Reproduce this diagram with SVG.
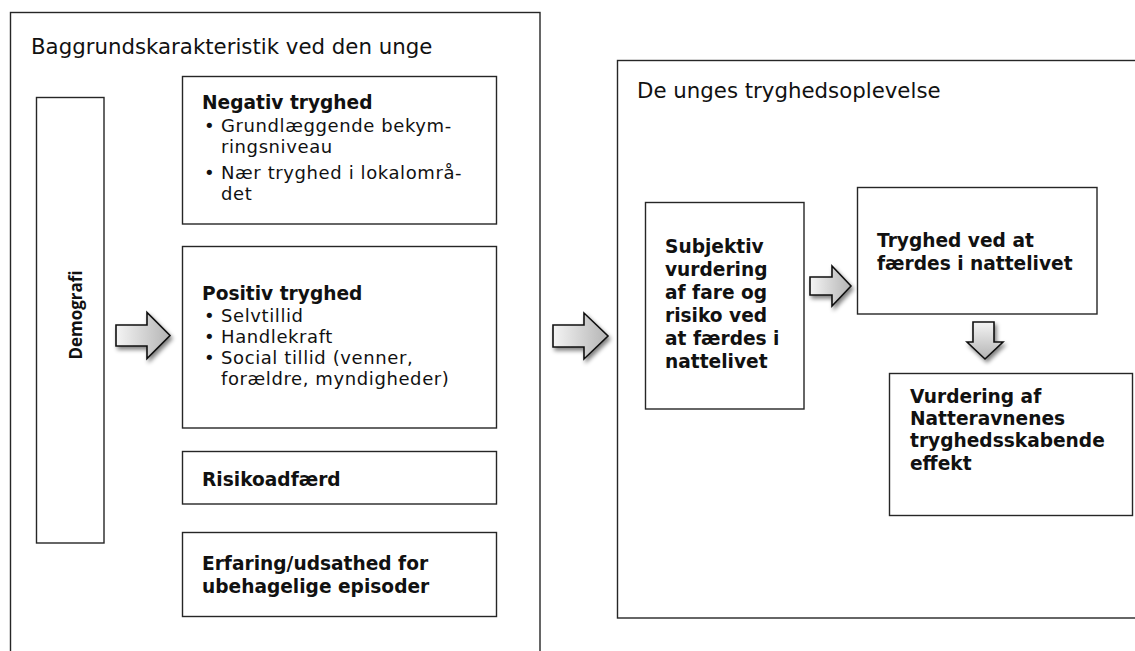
<svg xmlns="http://www.w3.org/2000/svg" width="1135" height="651" viewBox="0 0 1135 651">
<defs>
<style>
.box{fill:#fff;stroke:#262626;stroke-width:1.4}
.title{font-family:"DejaVu Sans",Verdana,sans-serif;font-size:21.3px;fill:#111}
.b{font-family:"DejaVu Sans",Verdana,sans-serif;font-size:18.6px;font-weight:bold;fill:#111}
.r{font-family:"DejaVu Sans",Verdana,sans-serif;font-size:18px;letter-spacing:0.6px;fill:#111}
.demo{font-family:"Open Sans","Noto Sans",sans-serif;font-size:17px;font-weight:bold;fill:#111}
.arrow{stroke:#111;stroke-width:1.6;stroke-linejoin:miter;filter:url(#sh)}
</style>
<linearGradient id="gh" x1="0" y1="0" x2="1" y2="0">
<stop offset="0" stop-color="#f4f4f4"/>
<stop offset="1" stop-color="#b4b4b4"/>
</linearGradient>
<linearGradient id="gv" x1="0" y1="0" x2="0" y2="1">
<stop offset="0" stop-color="#f4f4f4"/>
<stop offset="1" stop-color="#b4b4b4"/>
</linearGradient>
<filter id="sh" x="-30%" y="-30%" width="170%" height="170%">
<feGaussianBlur in="SourceAlpha" stdDeviation="2"/>
<feOffset dx="2" dy="3" result="o"/>
<feComponentTransfer><feFuncA type="linear" slope="0.5"/></feComponentTransfer>
<feMerge><feMergeNode/><feMergeNode in="SourceGraphic"/></feMerge>
</filter>
</defs>
<rect width="1135" height="651" fill="#fff"/>

<g id="baggrund">
<rect class="box" x="10.5" y="12.5" width="529.5" height="700"/>
<text class="title" x="31" y="54">Baggrundskarakteristik ved den unge</text>
</g>

<g id="tryghedsoplevelse">
<rect class="box" x="617.5" y="60.5" width="600" height="557.5"/>
<text class="title" x="637" y="98">De unges tryghedsoplevelse</text>
</g>

<g id="demografi">
<rect class="box" x="36.5" y="97.5" width="67.5" height="445.5"/>
<text class="demo" transform="translate(82,315) rotate(-90)" text-anchor="middle">Demografi</text>
</g>

<g id="negativ">
<rect class="box" x="182.5" y="76.5" width="314" height="147.5"/>
<text class="b" x="202" y="109">Negativ tryghed</text>
<text class="r"><tspan x="204" y="131.5">•</tspan><tspan x="221" y="131.5">Grundlæggende bekym-</tspan><tspan x="221" y="153">ringsniveau</tspan><tspan x="204" y="178.5">•</tspan><tspan x="221" y="178.5">Nær tryghed i lokalområ-</tspan><tspan x="221" y="200">det</tspan></text>
</g>

<g id="positiv">
<rect class="box" x="182.5" y="246.5" width="314" height="181.5"/>
<text class="b" x="202" y="299.5">Positiv tryghed</text>
<text class="r"><tspan x="204" y="322">•</tspan><tspan x="221" y="322">Selvtillid</tspan><tspan x="204" y="343">•</tspan><tspan x="221" y="343">Handlekraft</tspan><tspan x="204" y="364">•</tspan><tspan x="221" y="364">Social tillid (venner,</tspan><tspan x="221" y="385">forældre, myndigheder)</tspan></text>
</g>

<g id="risiko">
<rect class="box" x="182.5" y="451.5" width="314" height="52.5"/>
<text class="b" x="202" y="486">Risikoadfærd</text>
</g>

<g id="erfaring">
<rect class="box" x="182.5" y="532.5" width="314" height="84"/>
<text class="b"><tspan x="202" y="570">Erfaring/udsathed for</tspan><tspan x="202" y="592.5">ubehagelige episoder</tspan></text>
</g>

<g id="subjektiv">
<rect class="box" x="645.5" y="202.5" width="158.5" height="206.5"/>
<text class="b"><tspan x="665" y="253">Subjektiv</tspan><tspan x="665" y="276">vurdering</tspan><tspan x="665" y="299">af fare og</tspan><tspan x="665" y="322">risiko ved</tspan><tspan x="665" y="345">at færdes i</tspan><tspan x="665" y="368">nattelivet</tspan></text>
</g>

<g id="tryghed-nattelivet">
<rect class="box" x="857.5" y="187.5" width="239.5" height="126.5"/>
<text class="b"><tspan x="877" y="247">Tryghed ved at</tspan><tspan x="877" y="269.5">færdes i nattelivet</tspan></text>
</g>

<g id="natteravne">
<rect class="box" x="889.5" y="373.5" width="243" height="142"/>
<text class="b"><tspan x="910" y="402.5">Vurdering af</tspan><tspan x="910" y="425">Natteravnenes</tspan><tspan x="910" y="447">tryghedsskabende</tspan><tspan x="910" y="469.5">effekt</tspan></text>
</g>

<g id="connectors">
<path class="arrow" fill="url(#gh)" d="M116,325 H147 V312.5 L170,335.5 L147,358.5 V346 H116 Z"/>
<path class="arrow" fill="url(#gh)" d="M553,325 H584 V313 L608,336 L584,359 V347 H553 Z"/>
<path class="arrow" fill="url(#gh)" d="M810,277 H832 V266 L851,286 L832,306 V295 H810 Z"/>
<path class="arrow" fill="url(#gv)" d="M973,322 H994 V342 H1003 L985,359 L967,342 H973 Z"/>
</g>
</svg>
